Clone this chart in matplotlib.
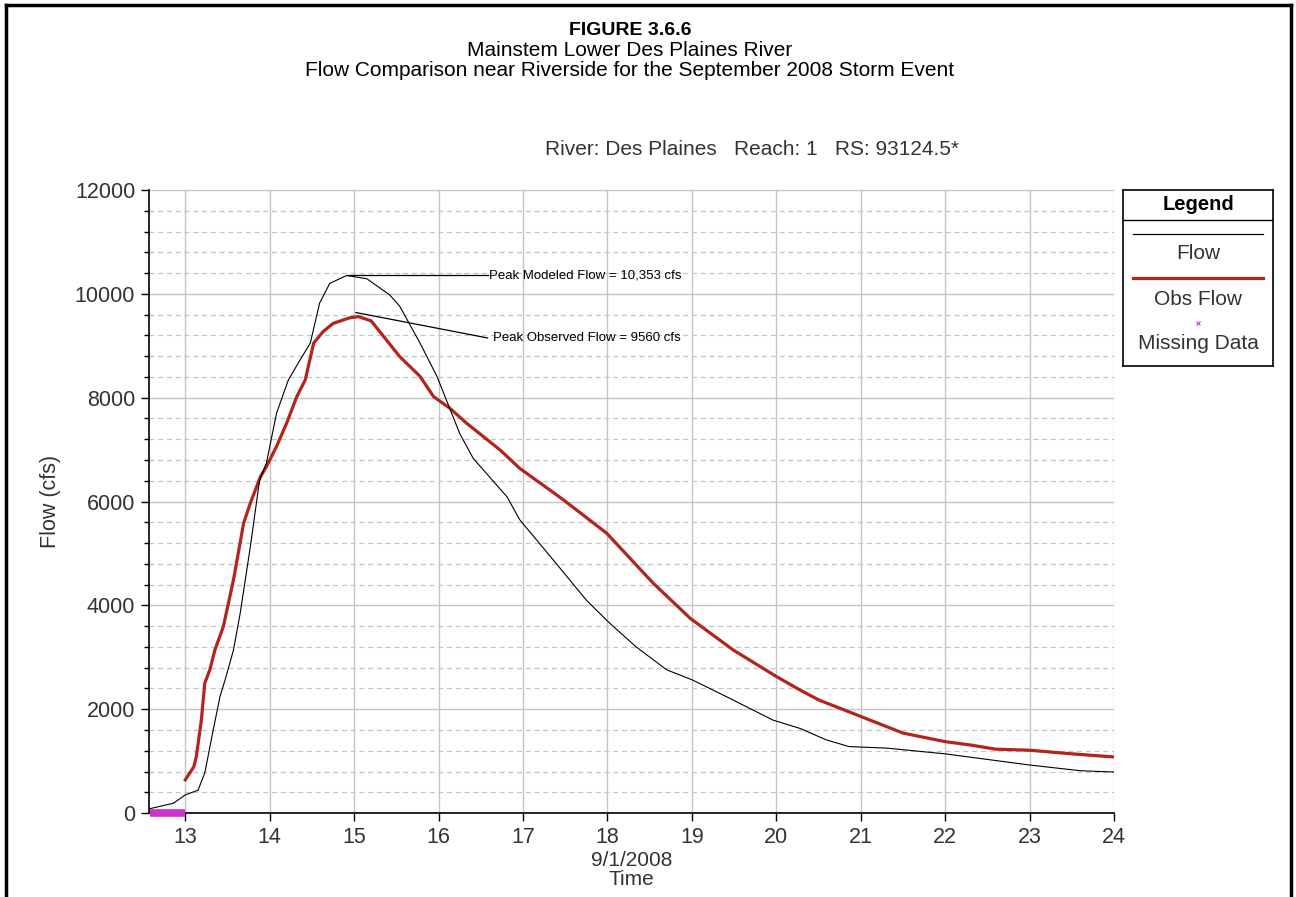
import numpy as np
import matplotlib
matplotlib.use('Agg')
from matplotlib import pyplot as plt
from matplotlib.lines import Line2D

plt.rcParams['font.family'] = ['Liberation Sans', 'DejaVu Sans']

# modeled flow (HEC-RAS output), time in days of Sept 2008
t_flow = [12.57, 12.86, 13.00, 13.15, 13.23, 13.33, 13.41, 13.47, 13.57, 13.65,
          13.77, 13.88, 13.96, 14.08, 14.22, 14.36, 14.48, 14.59, 14.71, 14.91,
          15.15, 15.42, 15.54, 15.78, 15.98, 16.13, 16.25, 16.41, 16.81, 16.96,
          17.36, 17.75, 18.03, 18.34, 18.70, 19.01, 19.41, 19.96, 20.28, 20.59,
          20.86, 21.31, 22.00, 23.00, 23.60, 24.00]
q_flow = [80, 190, 350, 440, 770, 1600, 2240, 2560, 3140, 3850,
          5130, 6420, 6740, 7700, 8340, 8730, 9050, 9820, 10200, 10353,
          10290, 9980, 9760, 9050, 8410, 7800, 7310, 6830, 6090, 5650,
          4870, 4100, 3650, 3200, 2760, 2560, 2240, 1790, 1630, 1410,
          1280, 1250, 1140, 925, 815, 790]

# observed flow at Riverside gage
t_obs = [13.00, 13.10, 13.13, 13.19, 13.23, 13.29, 13.35, 13.45, 13.57, 13.69,
         13.77, 13.89, 13.96, 14.08, 14.20, 14.32, 14.42, 14.52, 14.63, 14.75,
         14.95, 15.05, 15.20, 15.54, 15.78, 15.94, 16.13, 16.33, 16.73, 16.96,
         17.48, 17.99, 18.54, 18.98, 19.49, 20.00, 20.28, 20.50, 21.00, 21.50,
         22.00, 22.30, 22.60, 23.00, 23.50, 24.00]
q_obs = [640, 890, 1090, 1790, 2500, 2760, 3140, 3590, 4490, 5580,
         5970, 6480, 6670, 7060, 7510, 8020, 8340, 9050, 9270, 9430,
         9540, 9560, 9480, 8790, 8410, 8020, 7800, 7510, 6990, 6640,
         6030, 5390, 4430, 3750, 3140, 2630, 2370, 2180, 1860, 1540,
         1375, 1310, 1230, 1210, 1140, 1080]

# period with no observed record
t_missing = [12.58, 13.0]
q_missing = [0, 0]

peak_mod = 10353
peak_obs = 9560

fig = plt.figure(figsize=(12.96, 8.97), dpi=100)

# page frame
for xs, ys in [([0.0045, 0.0045], [-0.1, 0.9945]), ([0.9965, 0.9965], [-0.1, 0.9945]),
               ([0.0045, 0.9965], [0.9945, 0.9945])]:
    fig.add_artist(Line2D(xs, ys, color='black', lw=2.5, transform=fig.transFigure))

fig.text(0.486, 0.966, 'FIGURE 3.6.6', ha='center', va='center', fontsize=14, fontweight='bold')
fig.text(0.486, 0.944, 'Mainstem Lower Des Plaines River', ha='center', va='center', fontsize=15)
fig.text(0.486, 0.921, 'Flow Comparison near Riverside for the September 2008 Storm Event',
         ha='center', va='center', fontsize=15)
fig.text(0.580, 0.833, 'River: Des Plaines   Reach: 1   RS: 93124.5*', ha='center', va='center',
         fontsize=15, color='#333333')

ax = fig.add_axes([0.115, 0.0936, 0.7446, 0.6946])
ax.plot(t_flow, q_flow, color='black', lw=0.8, zorder=4)
ax.plot(t_obs, q_obs, color='#b3241a', lw=2.3, zorder=3)
ax.plot(t_missing, q_missing, color='#cc33cc', lw=5.5, solid_capstyle='butt', zorder=5, clip_on=False)

ax.set_xlim(12.57, 24)
ax.set_ylim(0, 12000)
ax.set_xticks(range(13, 25))
ax.set_yticks(range(0, 12001, 2000))
ax.set_yticks(np.arange(0, 12001, 400), minor=True)
ax.grid(True, which='major', color='#c4c4c4', lw=1.0, ls='-')
ax.grid(True, which='minor', axis='y', color='#c4c4c4', lw=0.9, ls=(0, (4, 3)))
ax.set_axisbelow(True)
for s in ['top', 'right']:
    ax.spines[s].set_visible(False)
for s in ['left', 'bottom']:
    ax.spines[s].set_linewidth(1.2)
ax.tick_params(which='major', direction='out', length=6, width=1, labelsize=15.5,
               labelcolor='#333333', pad=4)
ax.tick_params(which='minor', direction='out', length=3.5, width=1)
ax.tick_params(axis='x', which='minor', length=0)

ax.set_xlabel('9/1/2008\nTime', fontsize=15, color='#333333', linespacing=1.05, labelpad=2)
ax.set_ylabel('Flow (cfs)', fontsize=15.5, color='#333333', labelpad=10)

# peak callouts
ax.plot([14.91, 16.58], [peak_mod, peak_mod], color='black', lw=0.9)
ax.text(16.60, peak_mod, 'Peak Modeled Flow = 10,353 cfs', fontsize=9.5, va='center', ha='left')
ax.plot([15.02, 16.58], [peak_obs + 80, 9150], color='black', lw=0.9)
ax.text(16.64, 9150, 'Peak Observed Flow = 9560 cfs', fontsize=9.5, va='center', ha='left')

# legend panel
lg = fig.add_axes([0.8665, 0.592, 0.1158, 0.1962])
lg.set_xlim(0, 1)
lg.set_ylim(0, 1)
lg.set_xticks([])
lg.set_yticks([])
for s in lg.spines.values():
    s.set_linewidth(1.2)
lg.axhline(0.83, color='black', lw=1.0)
lg.text(0.5, 0.915, 'Legend', ha='center', va='center', fontsize=14.5, fontweight='bold')
lg.plot([0.07, 0.93], [0.75, 0.75], color='black', lw=0.9)
lg.text(0.5, 0.64, 'Flow', ha='center', va='center', fontsize=15, color='#333333')
lg.plot([0.07, 0.93], [0.50, 0.50], color='#b3241a', lw=2.3)
lg.text(0.5, 0.38, 'Obs Flow', ha='center', va='center', fontsize=15, color='#333333')
lg.plot([0.5], [0.245], marker='x', color='#cc33cc', ms=3.5, mew=0.8)
lg.text(0.5, 0.125, 'Missing Data', ha='center', va='center', fontsize=15, color='#333333')

plt.savefig('out.png', dpi=100)
